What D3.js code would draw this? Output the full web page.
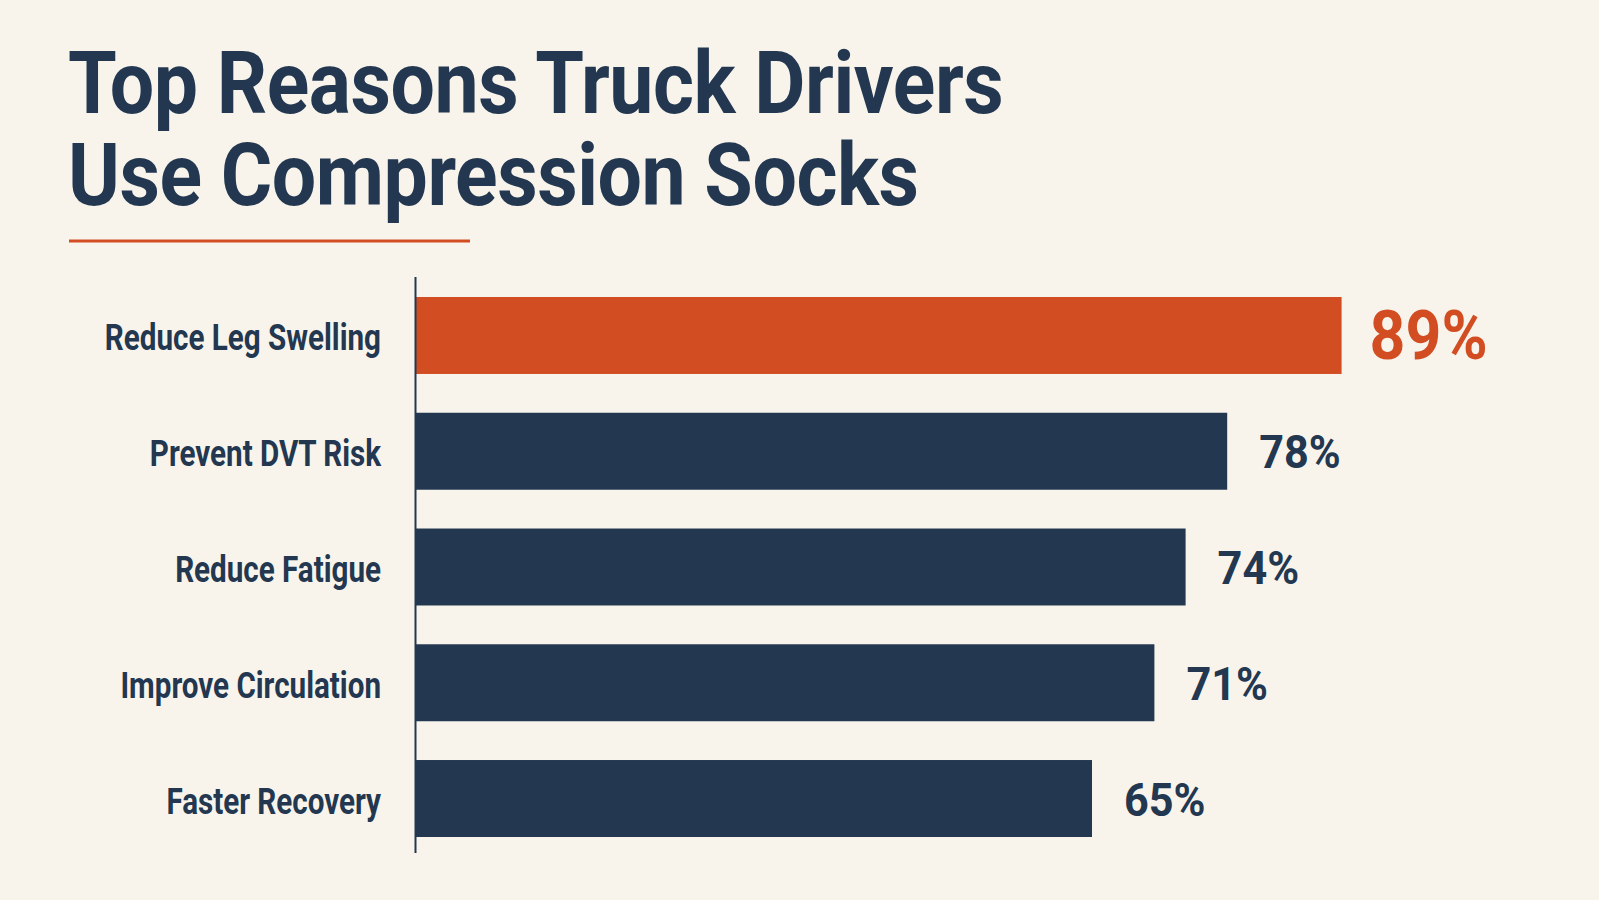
<!DOCTYPE html>
<html>
<head>
<meta charset="utf-8">
<script src="https://cdn.jsdelivr.net/npm/d3@7"></script>
<style>
    html, body { margin: 0; padding: 0; background: #f8f4ec; }
    svg { display: block; }
    text { font-family: Roboto, "Noto Sans", sans-serif; font-weight: 700; }
</style>
</head>
<body>
<div id="chart"></div>
<script>
// chart data
const titleLines = ["Top Reasons Truck Drivers", "Use Compression Socks"];
const categories = [
    "Reduce Leg Swelling",
    "Prevent DVT Risk",
    "Reduce Fatigue",
    "Improve Circulation",
    "Faster Recovery"
];
const values = [89, 78, 74, 71, 65];
const highlighted = "Reduce Leg Swelling";

const width = 1599, height = 900;
const navy = "#233850", orange = "#d24e22", bg = "#f8f4ec";
// fonts in the picture are condensed, so squeeze each text horizontally
const squeezeTitle = 0.895, squeezeCat = 0.80, squeezeVal = 0.92;

const data = categories.map((c, i) => ({ category: c, value: values[i] }));

const svg = d3.select("#chart").append("svg")
    .attr("width", width)
    .attr("height", height);

svg.append("rect").attr("width", width).attr("height", height).attr("fill", bg);

// title
svg.selectAll("text.title")
    .data(titleLines)
    .enter()
    .append("text")
    .attr("class", "title")
    .attr("transform", (d, i) => `translate(68, ${113 + i * 92}) scale(${squeezeTitle}, 1)`)
    .attr("font-size", 88)
    .attr("fill", navy)
    .attr("letter-spacing", -0.5)
    .text(d => d);

svg.append("line")
    .attr("x1", 69).attr("x2", 470)
    .attr("y1", 241).attr("y2", 241)
    .attr("stroke", orange)
    .attr("stroke-width", 3);

// scales
const xScale = d3.scaleLinear().domain([0, 100]).range([416, 1456]);
const yScale = d3.scaleBand().domain(categories).range([297, 837]).paddingInner(0.335).paddingOuter(0);

svg.selectAll("rect.bar")
    .data(data)
    .enter()
    .append("rect")
    .attr("class", "bar")
    .attr("x", xScale(0))
    .attr("y", d => yScale(d.category))
    .attr("width", d => xScale(d.value) - xScale(0))
    .attr("height", yScale.bandwidth())
    .attr("fill", d => d.category === highlighted ? orange : navy);

// axis line
const yAxis = d3.axisLeft(yScale).tickSize(0).tickPadding(35).tickFormat("");
const axisG = svg.append("g")
    .attr("transform", `translate(${xScale(0) - 0.5}, 0)`)
    .call(yAxis);
axisG.select(".domain")
    .attr("d", "M0,277V853")
    .attr("stroke", navy)
    .attr("stroke-width", 2);

// category labels
svg.selectAll("text.cat")
    .data(data)
    .enter()
    .append("text")
    .attr("class", "cat")
    .attr("text-anchor", "end")
    .attr("transform", d => `translate(381, ${yScale(d.category) + yScale.bandwidth() / 2 + 15}) scale(${squeezeCat}, 1)`)
    .attr("font-size", 37)
    .attr("fill", navy)
    .text(d => d.category);

// value labels
svg.selectAll("text.val")
    .data(data)
    .enter()
    .append("text")
    .attr("class", "val")
    .attr("transform", d => {
        const big = d.category === highlighted;
        const x = xScale(d.value) + (big ? 28 : 32);
        const y = yScale(d.category) + yScale.bandwidth() / 2 + (big ? 24 : 17);
        return `translate(${x}, ${y}) scale(${squeezeVal}, 1)`;
    })
    .attr("font-size", d => d.category === highlighted ? 68 : 47)
    .attr("fill", d => d.category === highlighted ? orange : navy)
    .text(d => d.value + "%");
</script>
</body>
</html>
